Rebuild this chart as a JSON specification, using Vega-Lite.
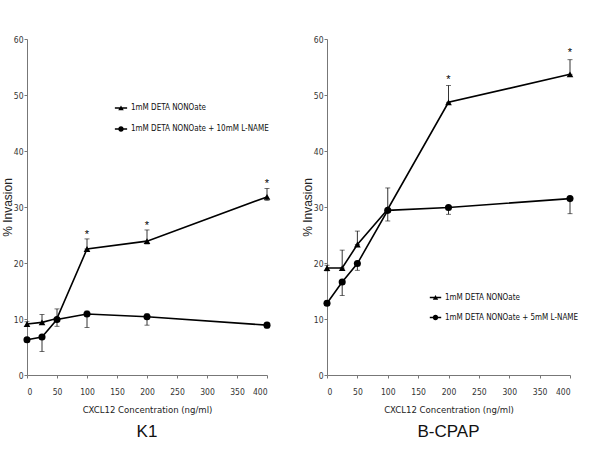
{
  "$schema": "https://vega.github.io/schema/vega-lite/v6.json",
  "padding": {"left": 1, "top": 35, "right": 5, "bottom": 5},
  "background": "white",
  "config": {
    "view": {"stroke": null},
    "axis": {
      "grid": false,
      "labelFont": "DejaVu Sans Condensed",
      "labelFontSize": 8.5,
      "labelColor": "#333333",
      "domainColor": "#777777",
      "tickColor": "#777777",
      "tickSize": 3,
      "titleFontWeight": "normal",
      "titleColor": "#222222"
    },
    "axisX": {"labelPadding": 9, "titlePadding": 9},
    "axisY": {"labelPadding": 1, "titlePadding": -1}
  },
  "datasets": {
    "pts": [
      {"panel": "K1", "series": "1mM DETA NONOate", "conc": 0, "val": 9.1, "lo": 8.7, "hi": 9.5},
      {"panel": "K1", "series": "1mM DETA NONOate", "conc": 25, "val": 9.4, "lo": 9.4, "hi": 10.8},
      {"panel": "K1", "series": "1mM DETA NONOate", "conc": 50, "val": 10.1, "lo": 10.1, "hi": 11.8},
      {"panel": "K1", "series": "1mM DETA NONOate", "conc": 100, "val": 22.5, "lo": 22.5, "hi": 24.3},
      {"panel": "K1", "series": "1mM DETA NONOate", "conc": 200, "val": 23.9, "lo": 23.4, "hi": 25.9},
      {"panel": "K1", "series": "1mM DETA NONOate", "conc": 400, "val": 31.8, "lo": 31.2, "hi": 33.3},
      {"panel": "K1", "series": "1mM DETA NONOate + 10mM L-NAME", "conc": 0, "val": 6.3, "lo": 5.9, "hi": 6.7},
      {"panel": "K1", "series": "1mM DETA NONOate + 10mM L-NAME", "conc": 25, "val": 6.8, "lo": 4.2, "hi": 6.8},
      {"panel": "K1", "series": "1mM DETA NONOate + 10mM L-NAME", "conc": 50, "val": 9.9, "lo": 8.7, "hi": 9.9},
      {"panel": "K1", "series": "1mM DETA NONOate + 10mM L-NAME", "conc": 100, "val": 10.9, "lo": 8.5, "hi": 11.4},
      {"panel": "K1", "series": "1mM DETA NONOate + 10mM L-NAME", "conc": 200, "val": 10.4, "lo": 8.9, "hi": 10.9},
      {"panel": "K1", "series": "1mM DETA NONOate + 10mM L-NAME", "conc": 400, "val": 8.9, "lo": 8.4, "hi": 9.4},
      {"panel": "B-CPAP", "series": "1mM DETA NONOate", "conc": 0, "val": 19.1, "lo": 18.6, "hi": 19.6},
      {"panel": "B-CPAP", "series": "1mM DETA NONOate", "conc": 25, "val": 19.1, "lo": 19.1, "hi": 22.3},
      {"panel": "B-CPAP", "series": "1mM DETA NONOate", "conc": 50, "val": 23.3, "lo": 23.3, "hi": 25.7},
      {"panel": "B-CPAP", "series": "1mM DETA NONOate", "conc": 100, "val": 29.6, "lo": 29.6, "hi": 33.4},
      {"panel": "B-CPAP", "series": "1mM DETA NONOate", "conc": 200, "val": 48.7, "lo": 48.7, "hi": 51.7},
      {"panel": "B-CPAP", "series": "1mM DETA NONOate", "conc": 400, "val": 53.7, "lo": 53.7, "hi": 56.3},
      {"panel": "B-CPAP", "series": "1mM DETA NONOate + 5mM L-NAME", "conc": 0, "val": 12.8, "lo": 12.4, "hi": 13.2},
      {"panel": "B-CPAP", "series": "1mM DETA NONOate + 5mM L-NAME", "conc": 25, "val": 16.6, "lo": 14.2, "hi": 16.6},
      {"panel": "B-CPAP", "series": "1mM DETA NONOate + 5mM L-NAME", "conc": 50, "val": 19.9, "lo": 18.7, "hi": 19.9},
      {"panel": "B-CPAP", "series": "1mM DETA NONOate + 5mM L-NAME", "conc": 100, "val": 29.4, "lo": 27.5, "hi": 29.4},
      {"panel": "B-CPAP", "series": "1mM DETA NONOate + 5mM L-NAME", "conc": 200, "val": 29.9, "lo": 28.7, "hi": 29.9},
      {"panel": "B-CPAP", "series": "1mM DETA NONOate + 5mM L-NAME", "conc": 400, "val": 31.5, "lo": 28.8, "hi": 31.5}
    ],
    "stars": [
      {"panel": "K1", "conc": 100, "sy": 25.5},
      {"panel": "K1", "conc": 200, "sy": 27.1},
      {"panel": "K1", "conc": 400, "sy": 34.6},
      {"panel": "B-CPAP", "conc": 200, "sy": 53.3},
      {"panel": "B-CPAP", "conc": 400, "sy": 58.0}
    ]
  },
  "spacing": 30,
  "resolve": {"scale": {"shape": "independent", "x": "independent", "y": "independent"}, "legend": {"shape": "independent"}},
  "hconcat": [
    {
      "width": 240,
      "height": 336,
      "title": {"text": "K1", "orient": "bottom", "fontSize": 17, "font": "Liberation Sans", "fontWeight": "normal", "offset": 10, "color": "#111111"},
      "data": {"name": "pts"},
      "transform": [{"filter": "datum.panel === 'K1'"}],
      "encoding": {
        "x": {"field": "conc", "type": "quantitative", "title": "CXCL12 Concentration (ng/ml)",
          "scale": {"domain": [0, 400], "nice": false},
          "axis": {"values": [0, 50, 100, 150, 200, 250, 300, 350, 400], "titleFont": "DejaVu Sans Condensed", "titleFontSize": 9.5}}
      },
      "layer": [
        {
          "mark": {"type": "errorbar", "color": "black", "thickness": 0.8, "ticks": {"size": 5}},
          "encoding": {
            "y": {"field": "lo", "type": "quantitative", "title": "% Invasion", "scale": {"domain": [0, 60], "nice": false},
              "axis": {"values": [0, 10, 20, 30, 40, 50, 60], "titleFont": "Liberation Sans", "titleFontSize": 12}},
            "y2": {"field": "hi"}
          }
        },
        {
          "mark": {"type": "line", "color": "black", "strokeWidth": 1.6},
          "encoding": {
            "y": {"field": "val", "type": "quantitative", "title": "% Invasion"},
            "detail": {"field": "series"}
          }
        },
        {
          "transform": [{"filter": "indexof(datum.series, 'L-NAME') < 0"}],
          "mark": {"type": "point", "shape": "triangle-up", "filled": true, "color": "black", "size": 45, "opacity": 1},
          "encoding": {"y": {"field": "val", "type": "quantitative", "title": "% Invasion"}}
        },
        {
          "transform": [{"filter": "indexof(datum.series, 'L-NAME') >= 0"}],
          "mark": {"type": "point", "shape": "circle", "filled": true, "color": "black", "size": 50, "opacity": 1},
          "encoding": {"y": {"field": "val", "type": "quantitative", "title": "% Invasion"}}
        },
        {
          "transform": [{"filter": "false"}],
          "mark": {"type": "point", "filled": true, "color": "black", "size": 45, "opacity": 1},
          "encoding": {
            "y": {"field": "val", "type": "quantitative", "title": "% Invasion"},
            "shape": {"field": "series", "type": "nominal",
              "scale": {"domain": ["1mM DETA NONOate", "1mM DETA NONOate + 10mM L-NAME"],
                "range": ["M-1,-0.13L1,-0.13L1,0.13L-1,0.13ZM-0.45,0.38L0,-0.42L0.45,0.38Z", "M-1,-0.13L1,-0.13L1,0.13L-1,0.13ZM0.45,0A0.45,0.45 0 1,1 -0.45,0A0.45,0.45 0 1,1 0.45,0Z"]},
              "legend": {"orient": "none", "legendX": 87, "legendY": 62, "title": null, "symbolSize": 150,
                "labelFont": "DejaVu Sans Condensed", "labelFontSize": 8, "labelColor": "#111111", "rowPadding": 8, "labelOffset": 3,
                "symbolFillColor": "black"}
            }
          }
        },
        {
          "data": {"name": "stars"},
          "transform": [{"filter": "datum.panel === 'K1'"}],
          "mark": {"type": "text", "text": "*", "fontSize": 11, "font": "Liberation Sans", "baseline": "middle", "dy": 3, "fill": "black"},
          "encoding": {"y": {"field": "sy", "type": "quantitative", "title": "% Invasion"}}
        }
      ]
    },
    {
      "width": 243,
      "height": 336,
      "title": {"text": "B-CPAP", "orient": "bottom", "fontSize": 17, "font": "Liberation Sans", "fontWeight": "normal", "offset": 10, "color": "#111111"},
      "data": {"name": "pts"},
      "transform": [{"filter": "datum.panel === 'B-CPAP'"}],
      "encoding": {
        "x": {"field": "conc", "type": "quantitative", "title": "CXCL12 Concentration (ng/ml)",
          "scale": {"domain": [0, 400], "nice": false},
          "axis": {"values": [0, 50, 100, 150, 200, 250, 300, 350, 400], "titleFont": "DejaVu Sans Condensed", "titleFontSize": 9.5}}
      },
      "layer": [
        {
          "mark": {"type": "errorbar", "color": "black", "thickness": 0.8, "ticks": {"size": 5}},
          "encoding": {
            "y": {"field": "lo", "type": "quantitative", "title": "% Invasion", "scale": {"domain": [0, 60], "nice": false},
              "axis": {"values": [0, 10, 20, 30, 40, 50, 60], "titleFont": "Liberation Sans", "titleFontSize": 12}},
            "y2": {"field": "hi"}
          }
        },
        {
          "mark": {"type": "line", "color": "black", "strokeWidth": 1.6},
          "encoding": {
            "y": {"field": "val", "type": "quantitative", "title": "% Invasion"},
            "detail": {"field": "series"}
          }
        },
        {
          "transform": [{"filter": "indexof(datum.series, 'L-NAME') < 0"}],
          "mark": {"type": "point", "shape": "triangle-up", "filled": true, "color": "black", "size": 45, "opacity": 1},
          "encoding": {"y": {"field": "val", "type": "quantitative", "title": "% Invasion"}}
        },
        {
          "transform": [{"filter": "indexof(datum.series, 'L-NAME') >= 0"}],
          "mark": {"type": "point", "shape": "circle", "filled": true, "color": "black", "size": 50, "opacity": 1},
          "encoding": {"y": {"field": "val", "type": "quantitative", "title": "% Invasion"}}
        },
        {
          "transform": [{"filter": "false"}],
          "mark": {"type": "point", "filled": true, "color": "black", "size": 45, "opacity": 1},
          "encoding": {
            "y": {"field": "val", "type": "quantitative", "title": "% Invasion"},
            "shape": {"field": "series", "type": "nominal",
              "scale": {"domain": ["1mM DETA NONOate", "1mM DETA NONOate + 5mM L-NAME"],
                "range": ["M-1,-0.14L1,-0.14L1,0.14L-1,0.14ZM-0.47,0.4L0,-0.44L0.47,0.4Z", "M-1,-0.14L1,-0.14L1,0.14L-1,0.14ZM0.48,0A0.48,0.48 0 1,1 -0.48,0A0.48,0.48 0 1,1 0.48,0Z"]},
              "legend": {"orient": "none", "legendX": 102, "legendY": 252, "title": null, "symbolSize": 130,
                "labelFont": "DejaVu Sans Condensed", "labelFontSize": 8, "labelColor": "#111111", "rowPadding": 8, "labelOffset": 3,
                "symbolFillColor": "black"}
            }
          }
        },
        {
          "data": {"name": "stars"},
          "transform": [{"filter": "datum.panel === 'B-CPAP'"}],
          "mark": {"type": "text", "text": "*", "fontSize": 11, "font": "Liberation Sans", "baseline": "middle", "dy": 3, "fill": "black"},
          "encoding": {"y": {"field": "sy", "type": "quantitative", "title": "% Invasion"}}
        }
      ]
    }
  ]
}
